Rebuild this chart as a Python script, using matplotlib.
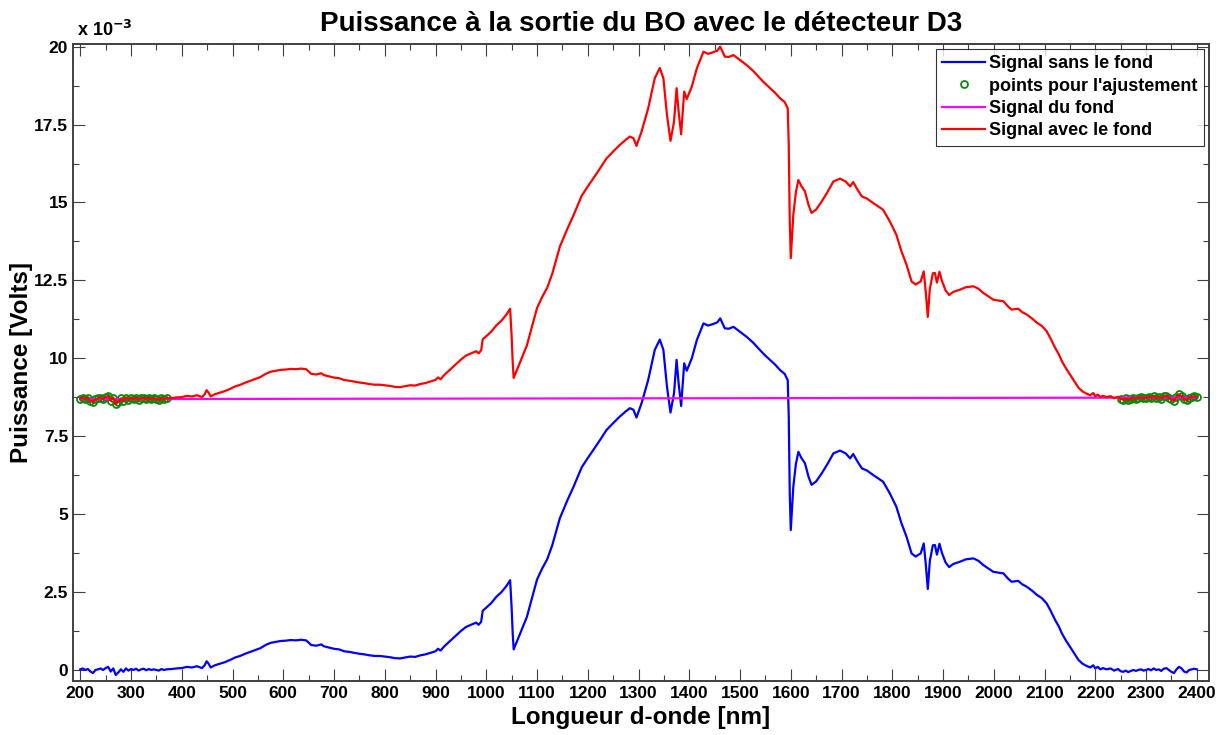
import numpy as np
import matplotlib
matplotlib.use('Agg')
import matplotlib.pyplot as plt
from matplotlib.ticker import MultipleLocator, FuncFormatter

plt.rcParams['font.family'] = ['Liberation Sans', 'DejaVu Sans']
plt.rcParams['font.weight'] = 'bold'

# longueur d'onde (nm) et signal sans le fond (x 1e-3 V)
lam = [200, 205, 210, 215, 220, 225, 230, 235, 240, 245, 250, 255, 260, 265, 270, 275,
       280, 285, 290, 295, 300, 305, 310, 315, 320, 325, 330, 335, 340, 345, 350, 355,
       360, 365, 370,
       380, 390, 400, 410, 420, 430, 440, 445, 449, 453, 457, 465, 475, 485, 495, 505,
       515, 525, 535, 545, 555, 565, 575, 585, 595, 605, 615, 625, 635, 645, 650, 655,
       665, 675, 680, 690, 700, 710, 720, 730, 740, 750, 760, 770, 780, 790, 800, 810,
       820, 830, 840, 850, 860, 870, 880, 890, 900, 905, 910, 915, 920, 930, 940, 950,
       960, 970, 980, 985, 990, 993, 1000, 1010, 1020, 1030, 1040, 1047, 1050, 1052,
       1054, 1060, 1070, 1080, 1090, 1100, 1110, 1120, 1130, 1145, 1160, 1172, 1188,
       1200, 1211, 1225, 1237, 1250, 1263, 1275, 1283, 1290, 1296, 1306, 1319, 1332,
       1342, 1349, 1356, 1363, 1370, 1375, 1379, 1384, 1390, 1395, 1405, 1415, 1428,
       1437, 1447, 1455, 1461, 1470, 1478, 1487, 1500, 1513, 1526, 1539, 1549, 1559,
       1569, 1579, 1588, 1594, 1596, 1598, 1600, 1605, 1610, 1615, 1621, 1628, 1635,
       1641, 1650, 1661, 1672, 1684, 1697, 1708, 1717, 1723, 1731, 1740, 1750, 1762,
       1772, 1782, 1795, 1808, 1818, 1828, 1838, 1846, 1852, 1856, 1862, 1866, 1870,
       1874, 1880, 1884, 1888, 1893, 1898, 1905, 1912, 1920, 1933, 1945, 1960, 1970,
       1979, 1990, 1999, 2010, 2019, 2027, 2035, 2048, 2056, 2065, 2075, 2085, 2095,
       2104, 2112, 2121, 2128, 2134, 2142, 2150, 2158, 2167, 2175, 2183, 2190, 2196,
       2200, 2205, 2210, 2215, 2222, 2230, 2237, 2245,
       2250, 2255, 2260, 2265, 2270, 2275, 2280, 2285, 2290, 2295, 2300, 2305, 2310,
       2315, 2320, 2325, 2330, 2335, 2340, 2345, 2350, 2355, 2360, 2365, 2370, 2375,
       2380, 2385, 2390, 2395, 2400]
sans_fond = [0.02, 0.05, 0.0, 0.03, -0.05, -0.1, 0.0, 0.02, 0.05, 0.0, 0.06, 0.1, -0.05,
             0.05, -0.16, -0.08, 0.02, -0.06, 0.05, -0.02, 0.03, 0.0, 0.04, -0.02, 0.02,
             0.04, -0.01, 0.03, 0.0, 0.02, 0.0, -0.02, 0.03, 0.0, 0.02,
             0.03, 0.05, 0.06, 0.1, 0.08, 0.12, 0.06, 0.15, 0.28, 0.2, 0.08, 0.15, 0.2,
             0.25, 0.32, 0.4, 0.45, 0.52, 0.58, 0.64, 0.7, 0.8, 0.87, 0.9, 0.93, 0.94,
             0.96, 0.95, 0.97, 0.95, 0.88, 0.8, 0.78, 0.82, 0.76, 0.72, 0.68, 0.66, 0.6,
             0.58, 0.55, 0.52, 0.5, 0.47, 0.45, 0.45, 0.43, 0.41, 0.38, 0.37, 0.4, 0.43,
             0.42, 0.47, 0.5, 0.55, 0.6, 0.68, 0.62, 0.72, 0.8, 0.95, 1.1, 1.25, 1.38,
             1.45, 1.52, 1.45, 1.55, 1.9, 2.0, 2.15, 2.35, 2.5, 2.7, 2.88, 2.0, 1.2, 0.66,
             0.9, 1.3, 1.7, 2.3, 2.9, 3.25, 3.55, 4.0, 4.87, 5.45, 5.88, 6.5, 6.8, 7.06,
             7.4, 7.7, 7.92, 8.13, 8.3, 8.4, 8.35, 8.1, 8.56, 9.3, 10.27, 10.6, 10.27,
             9.1, 8.26, 8.88, 9.95, 9.2, 8.47, 9.84, 9.6, 10.0, 10.59, 11.12, 11.05, 11.1,
             11.15, 11.28, 10.96, 10.95, 11.01, 10.85, 10.69, 10.5, 10.27, 10.1, 9.95,
             9.8, 9.62, 9.5, 9.3, 8.13, 5.67, 4.49, 5.88, 6.6, 7.0, 6.8, 6.63, 6.2, 5.94,
             6.05, 6.31, 6.6, 6.95, 7.04, 6.95, 6.79, 6.93, 6.7, 6.47, 6.4, 6.26, 6.15,
             6.04, 5.67, 5.24, 4.71, 4.28, 3.74, 3.64, 3.7, 3.74, 4.06, 3.4, 2.6, 3.5,
             4.0, 4.01, 3.7, 4.05, 3.75, 3.45, 3.3, 3.4, 3.47, 3.55, 3.58, 3.5, 3.37,
             3.25, 3.15, 3.12, 3.1, 2.95, 2.83, 2.86, 2.75, 2.67, 2.55, 2.41, 2.3, 2.14,
             1.9, 1.6, 1.4, 1.18, 0.95, 0.75, 0.55, 0.32, 0.2, 0.13, 0.08, 0.15, 0.05,
             0.1, 0.02, 0.06, 0.02, 0.05, -0.02, 0.03,
             -0.04, -0.06, -0.02, -0.07, -0.03, 0.0, -0.03, 0.0, 0.02, -0.02, 0.0, 0.03,
             -0.01, 0.05, 0.0, 0.02, -0.03, 0.04, 0.06, 0.0, -0.06, -0.1, 0.02, 0.1,
             0.05, -0.05, -0.08, 0.0, 0.02, 0.04, 0.02]

# ajustement lineaire du fond (extremites, x 1e-3 V)
fond_lam = [200, 2400]
fond_val = [8.69, 8.74]

# zones utilisees pour l'ajustement (nm)
zones_fit = [(200, 370), (2250, 2400)]

lam = np.array(lam, dtype=float)
sig = np.array(sans_fond) * 1e-3
fond = np.interp(lam, fond_lam, fond_val) * 1e-3
avec_fond = sig + fond
mask = np.zeros(lam.shape, dtype=bool)
for a, b in zones_fit:
    mask |= (lam >= a) & (lam <= b)

fig = plt.figure(figsize=(12.28, 7.35), dpi=100)
ax = fig.add_axes([0.0594, 0.0735, 0.9251, 0.8673])

ax.plot(lam, sig, color='#0000ff', lw=1.6, label='Signal sans le fond')
ax.plot(lam[mask], avec_fond[mask], 'o', color='#0a8a0a', mfc='none', ms=5, mew=1.3,
        label="points pour l'ajustement")
ax.plot(lam, fond, color='#ff00ff', lw=1.6, label='Signal du fond')
ax.plot(lam, avec_fond, color='#ff0000', lw=1.6, label='Signal avec le fond')

ax.set_xlim(185.6, 2424)
ax.set_ylim(-0.353e-3, 20.1e-3)
ax.xaxis.set_major_locator(MultipleLocator(100))
ax.xaxis.set_minor_locator(MultipleLocator(50))
ax.yaxis.set_major_locator(MultipleLocator(2.5e-3))
ax.yaxis.set_minor_locator(MultipleLocator(1.25e-3))
ax.yaxis.set_major_formatter(FuncFormatter(lambda v, p: '%g' % round(v * 1e3, 3)))

ax.tick_params(which='both', direction='in', top=True, right=True, colors='#404040',
               labelcolor='black', labelsize=12.5, width=0.8)
ax.tick_params(which='major', length=8.5)
ax.tick_params(which='minor', length=4.3)
for s in ax.spines.values():
    s.set_color('#404040')
    s.set_linewidth(1.4)

ax.text(0.004, 1.006, r'x 10$^{-3}$', transform=ax.transAxes, fontsize=13,
        fontweight='bold', ha='left', va='bottom')

ax.set_title('Puissance à la sortie du BO avec le détecteur D3', fontsize=20,
             fontweight='bold', pad=9)
ax.set_xlabel('Longueur d-onde [nm]', fontsize=17.5, fontweight='bold', labelpad=4)
ax.set_ylabel('Puissance [Volts]', fontsize=17.5, fontweight='bold', labelpad=1)

leg = ax.legend(loc='upper right', fontsize=13, frameon=True, fancybox=False,
                edgecolor='black', handlelength=2.4, handletextpad=0.2,
                labelspacing=0.3, borderaxespad=0.3, borderpad=0.35)
leg.get_frame().set_linewidth(0.8)
for t in leg.get_texts():
    t.set_fontweight('bold')

fig.savefig('out.png', dpi=100, facecolor='white')
